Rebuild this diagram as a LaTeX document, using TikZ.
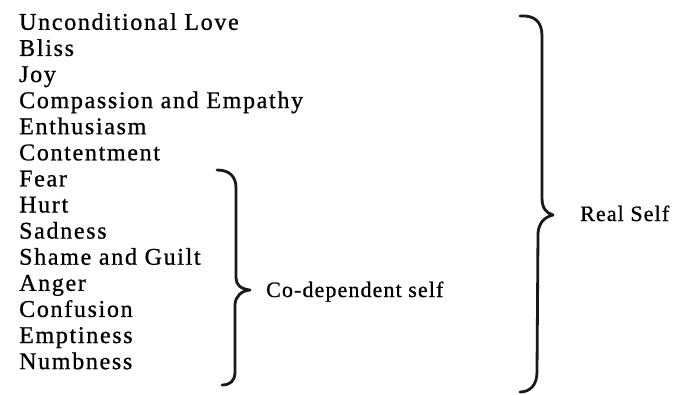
\documentclass[tikz,border=0pt]{standalone}
\usepackage{fontspec}
\setmainfont{Liberation Serif}[LetterSpace=7,FakeBold=0.8]
\tikzset{
  item/.style={anchor=base west, inner sep=0pt, font=\fontsize{24bp}{26bp}\selectfont},
  lbl/.style={anchor=base west, inner sep=0pt, font=\fontsize{22bp}{24bp}\selectfont\addfontfeatures{LetterSpace=5}},
  bracestroke/.style={line width=2.8bp, line cap=round, line join=round, black!90}
}
\begin{document}
\begin{tikzpicture}[x=1bp,y=-1bp]
\useasboundingbox (0,0) rectangle (680,394);
\foreach \t [count=\i] in {Unconditional Love,Bliss,Joy,Compassion and Empathy,Enthusiasm,Contentment,Fear,Hurt,Sadness,Shame and Guilt,Anger,Confusion,Emptiness,Numbness}
  \node[item] (n\i) at (19,{29.8+26.1*(\i-1)}) {\t};
% small brace
\coordinate (sTop) at (217,170);
\coordinate (sTip) at (250,290);
\coordinate (sBot) at (222,385);
\draw[bracestroke] (sTop) .. controls (229,170) and (236,176) .. (236,188) -- (236,278)
  .. controls (236,285) and (241,289) .. (sTip)
  .. controls (241,291) and (236,296) .. (235,304) -- (235,372)
  .. controls (235,381) and (230,385) .. (sBot);
\node[lbl] (codep) at (266,297) {Co-dependent self};
% big brace
\coordinate (bTop) at (520,16);
\coordinate (bTip) at (553,215);
\coordinate (bBot) at (520,392);
\draw[bracestroke] (bTop) .. controls (535,15) and (542,22) .. (542,36) -- (542,198)
  .. controls (542,208) and (546,213) .. (bTip)
  .. controls (545,217) and (539,222) .. (538,233) -- (537,372)
  .. controls (537,385) and (530,392) .. (bBot);
\node[lbl] (real) at (580,221) {Real Self};
\end{tikzpicture}
\end{document}
